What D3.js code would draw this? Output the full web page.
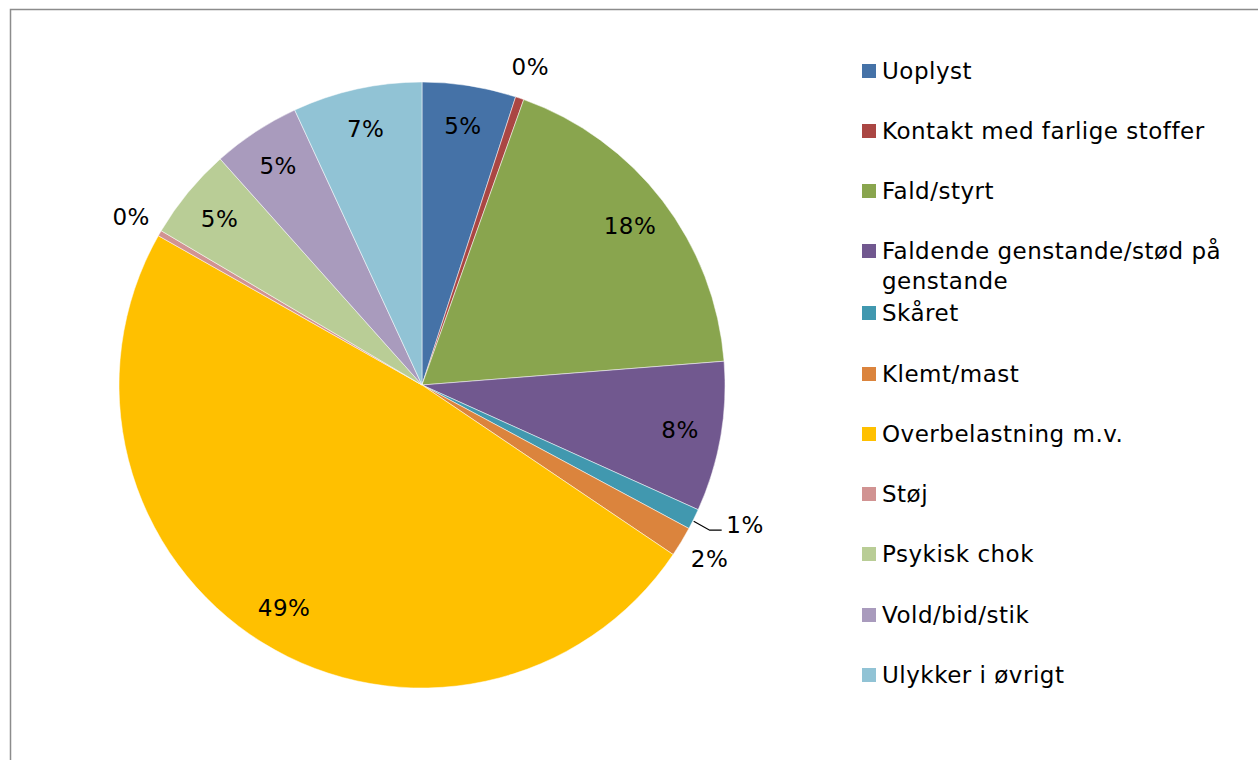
<!DOCTYPE html>
<html>
<head>
<meta charset="utf-8">
<script src="https://cdn.jsdelivr.net/npm/d3@7"></script>
<style>
  body { margin: 0; background: #fff; }
  svg text { font-family: "DejaVu Sans", Verdana, sans-serif; fill: #000; letter-spacing: 0.5px; }
</style>
</head>
<body>
<div id="chart"></div>
<script>
// categories and shares (percent)
var categories = ["Uoplyst", "Kontakt med farlige stoffer", "Fald/styrt",
    "Faldende genstande/stød på genstande", "Skåret", "Klemt/mast",
    "Overbelastning m.v.", "Støj", "Psykisk chok", "Vold/bid/stik", "Ulykker i øvrigt"];
var shares = [5.0, 0.45, 18.3, 8.0, 1.1, 1.6, 48.75, 0.3, 4.9, 4.7, 6.9];
var colors = ["#4572A7", "#AA4643", "#89A54E", "#71588F", "#4198AF", "#DB843D",
    "#FFC000", "#D19392", "#B9CD96", "#A99BBD", "#91C3D5"];
var outsideLabels = ["Kontakt med farlige stoffer", "Skåret", "Klemt/mast", "Støj"];
var legendLines = [["Uoplyst"], ["Kontakt med farlige stoffer"], ["Fald/styrt"],
    ["Faldende genstande/stød på", "genstande"], ["Skåret"], ["Klemt/mast"],
    ["Overbelastning m.v."], ["Støj"], ["Psykisk chok"], ["Vold/bid/stik"], ["Ulykker i øvrigt"]];

var W = 1258, H = 760;
var cx = 422, cy = 385, R = 303;

var svg = d3.select("#chart").append("svg")
    .attr("width", W).attr("height", H);

// outer frame (chart area border runs off the page right/bottom)
svg.append("rect")
    .attr("x", 10.5).attr("y", 9.5)
    .attr("width", 1400).attr("height", 900)
    .style("fill", "none").style("stroke", "#8c8c8c").style("stroke-width", 1.5);

var data = categories.map(function(c, i){
    return {name: c, value: shares[i], color: colors[i]};
});

var pie = d3.pie().sort(null).value(function(d){ return d.value; });
var arcs = pie(data);

var arc = d3.arc().innerRadius(0).outerRadius(R);

var g = svg.append("g").attr("transform", "translate(" + cx + "," + cy + ")");

g.selectAll(".slice")
    .data(arcs)
  .enter().append("path")
    .attr("class", "slice")
    .attr("d", arc)
    .style("fill", function(d){ return d.data.color; })
    .style("stroke", "#fff")
    .style("stroke-width", 0.5);

function pos(a, r){
    var m = (a.startAngle + a.endAngle) / 2;
    return [Math.sin(m) * r, -Math.cos(m) * r];
}

// percent labels
g.selectAll(".lbl")
    .data(arcs)
  .enter().append("text")
    .attr("class", "lbl")
    .attr("text-anchor", "middle")
    .attr("dominant-baseline", "central")
    .style("font-size", "23px")
    .attr("transform", function(d){
        var out = outsideLabels.indexOf(d.data.name) >= 0;
        var p = pos(d, out ? 336 : 262);
        if (d.data.name == "Skåret") p = [323, 140];
        return "translate(" + p[0] + "," + p[1] + ")";
    })
    .text(function(d){ return Math.round(d.data.value) + "%"; });

// leader line for the small Skåret slice
var sk = arcs[4];
var e = pos(sk, R);
g.append("polyline")
    .attr("points", [[e[0], e[1] + 2], [e[0] + 16, e[1] + 11], [e[0] + 28, e[1] + 11]].map(function(p){ return p.join(","); }).join(" "))
    .style("fill", "none").style("stroke", "#000").style("stroke-width", 1.2);

// legend
var legY = [71, 131, 191, 251, 313, 374, 434, 494, 554, 615, 675];
var leg = svg.append("g").attr("class", "legend");
legendLines.forEach(function(lines, i){
    leg.append("rect")
        .attr("x", 862).attr("y", legY[i] - 7)
        .attr("width", 14).attr("height", 14)
        .style("fill", colors[i]);
    var t = leg.append("text")
        .attr("x", 882).attr("y", legY[i])
        .attr("dominant-baseline", "central")
        .style("font-size", "23px");
    lines.forEach(function(l, j){
        t.append("tspan").attr("x", 882).attr("dy", j == 0 ? 0 : 30).text(l);
    });
});
</script>
</body>
</html>
